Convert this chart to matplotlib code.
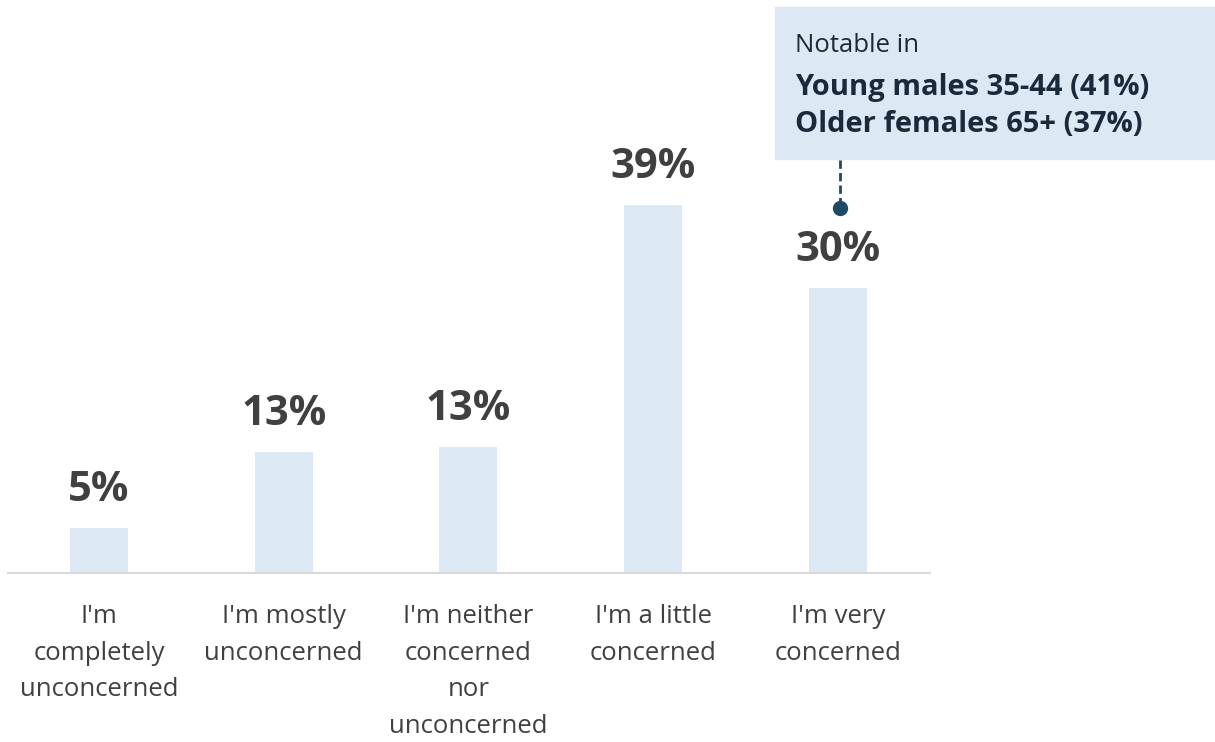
import matplotlib
matplotlib.use("Agg")
import matplotlib.pyplot as plt
from matplotlib.patches import Rectangle

plt.rcParams['font.family'] = ['Open Sans', 'DejaVu Sans']

categories = ["I'm\ncompletely\nunconcerned", "I'm mostly\nunconcerned",
              "I'm neither\nconcerned\nnor\nunconcerned", "I'm a little\nconcerned",
              "I'm very\nconcerned"]
values = [4.8, 12.8, 13.3, 39.0, 30.2]
labels = ["5%", "13%", "13%", "39%", "30%"]
note_title = "Notable in"
note_lines = ["Young males 35-44 (41%)", "Older females 65+ (37%)"]

bar_color = "#dce8f4"
text_color = "#404040"
note_color = "#1b2a3a"
dot_color = "#1f4a63"

W, H = 1215, 742
fig = plt.figure(figsize=(W / 100, H / 100), dpi=100)
ax = fig.add_axes([8 / W, 1 - 573 / H, 922 / W, 573 / H])

x = range(len(values))
ax.bar(x, values, width=0.314, color=bar_color, zorder=2)
ax.set_xlim(-0.4925, 4.498)
ax.set_ylim(0, 573 / 9.44)

for xi, v, lab in zip(x, values, labels):
    ax.annotate(lab, (xi, v), xytext=(0, 19.5), textcoords="offset points",
                ha="center", va="baseline", fontsize=30, fontweight="bold",
                color=text_color)

for s in ["top", "right", "left"]:
    ax.spines[s].set_visible(False)
ax.spines["bottom"].set_color("#d9d9d9")
ax.spines["bottom"].set_linewidth(1.5)
ax.set_yticks([])
ax.set_xticks(list(x))
ax.set_xticklabels(categories, fontsize=18.5, color=text_color, linespacing=1.63)
ax.tick_params(axis="x", length=0, pad=22)

# callout box
fig.patches.append(Rectangle((775 / W, 1 - 159 / H), 440 / W, 152 / H,
                             transform=fig.transFigure, color=bar_color, zorder=1))
fig.text(795 / W, 1 - 45 / H, note_title, fontsize=18.5, color=note_color, va="center")
for i, line in enumerate(note_lines):
    fig.text(795 / W, 1 - (88 + 37 * i) / H, line, fontsize=21, fontweight="bold",
             color=note_color, va="center")

fig.add_artist(plt.Line2D([840 / W, 840 / W], [1 - 160 / H, 1 - 203 / H],
                          transform=fig.transFigure, color=dot_color, lw=2,
                          linestyle=(0, (3, 1.5))))
fig.add_artist(plt.Line2D([840 / W], [1 - 208 / H], transform=fig.transFigure,
                          marker="o", markersize=10, color=dot_color))

fig.savefig("out.png", dpi=100)
